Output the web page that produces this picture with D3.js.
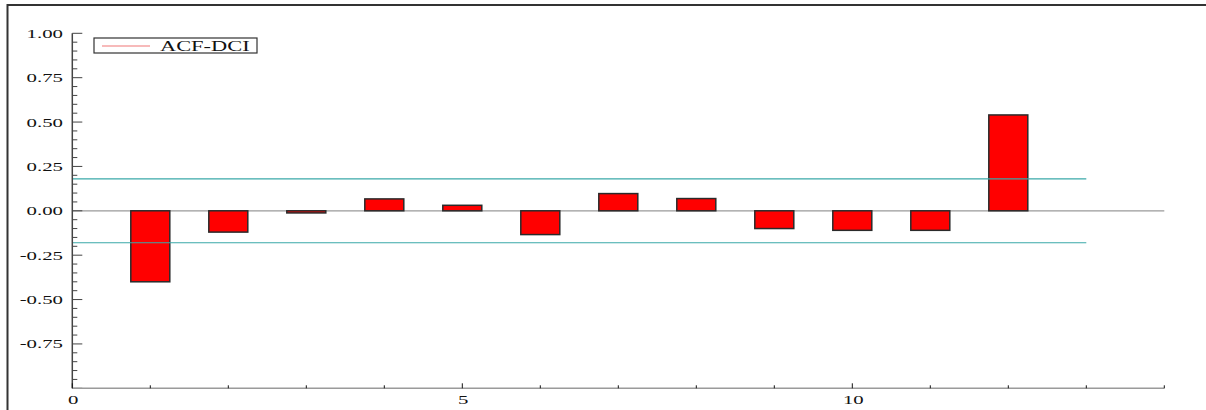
<!DOCTYPE html>
<html><head><meta charset="utf-8">
<script src="https://cdn.jsdelivr.net/npm/d3@7"></script>
<style>
html,body{margin:0;padding:0;background:#fff;}
svg{display:block;}
text{font-family:"Liberation Serif","Times New Roman",serif;fill:#111;}
</style></head>
<body>
<svg id="c" width="1206" height="410"></svg>
<script>
const lags = [1,2,3,4,5,6,7,8,9,10,11,12];
const acfValues = [-0.40,-0.12,-0.012,0.067,0.031,-0.134,0.097,0.069,-0.10,-0.11,-0.11,0.54];
const confBand = 0.18;
const yTickLabels = ["-0.75","-0.50","-0.25","0.00","0.25","0.50","0.75","1.00"];
const xTickLabels = ["0","5","10"];
const seriesName = "ACF-DCI";

const svg = d3.select("#c");
const x = d3.scaleLinear().domain([0,14]).range([72.3,1164.3]);
const y = d3.scaleLinear().domain([-1,1]).range([388.3,33.3]);

// outer frame (top + left)
svg.append("line").attr("x1",7).attr("x2",1206).attr("y1",5).attr("y2",5).attr("stroke","#333").attr("stroke-width",2);
svg.append("line").attr("x1",7.5).attr("x2",7.5).attr("y1",4).attr("y2",410).attr("stroke","#333").attr("stroke-width",2);

// zero line
svg.append("line").attr("x1",x(0)).attr("x2",x(14)).attr("y1",y(0)).attr("y2",y(0)).attr("stroke","#9a9a9a").attr("stroke-width",1.2);

// bars
const bw = x(0.5)-x(0);
svg.selectAll("rect.bar").data(lags.map((l,i)=>({l,v:acfValues[i]}))).join("rect")
  .attr("class","bar")
  .attr("x",d=>x(d.l)-bw/2)
  .attr("width",bw)
  .attr("y",d=>Math.min(y(d.v),y(0)))
  .attr("height",d=>Math.max(1,Math.abs(y(d.v)-y(0))))
  .attr("fill","#ff0000").attr("stroke","#2a2a2a").attr("stroke-width",1.5);

// confidence lines
[confBand,-confBand].forEach(c=>{
  svg.append("line").attr("x1",x(0)).attr("x2",x(13)).attr("y1",y(c)).attr("y2",y(c))
    .attr("stroke","#3aa9a9").attr("stroke-width",1.2);
});

// y axis
const yMinor = d3.range(-20,21).map(i=>i*0.05);
svg.append("line").attr("x1",x(0)).attr("x2",x(0)).attr("y1",y(-1)).attr("y2",y(1)).attr("stroke","#444").attr("stroke-width",1.5);
svg.selectAll("line.ymin").data(yMinor).join("line").attr("class","ymin")
  .attr("x1",x(0)).attr("x2",d=>x(0)+(Math.abs(Math.round(d*100)%25)===0?10:5))
  .attr("y1",d=>y(d)).attr("y2",d=>y(d)).attr("stroke","#444").attr("stroke-width",1);
const yl = svg.selectAll("text.yl").data(yTickLabels).join("text").attr("class","yl")
  .attr("x",63).attr("y",d=>y(+d)+4.5).attr("text-anchor","end").attr("font-size",13).text(d=>d);
yl.each(function(){const n=this.getComputedTextLength(); d3.select(this).attr("textLength",n*1.6).attr("lengthAdjust","spacingAndGlyphs");});

// x axis
svg.append("line").attr("x1",x(0)).attr("x2",x(14)).attr("y1",y(-1)).attr("y2",y(-1)).attr("stroke","#9a9a9a").attr("stroke-width",1.5);
svg.selectAll("line.xt").data(d3.range(0,15)).join("line").attr("class","xt")
  .attr("x1",d=>x(d)).attr("x2",d=>x(d)).attr("y1",y(-1)).attr("y2",d=>y(-1)-(d%5===0?5:3))
  .attr("stroke","#111").attr("stroke-width",1);
const xl = svg.selectAll("text.xl").data(xTickLabels).join("text").attr("class","xl")
  .attr("x",d=>x(+d)+1).attr("y",403.5).attr("text-anchor","middle").attr("font-size",13).text(d=>d);
xl.each(function(){const n=this.getComputedTextLength(); d3.select(this).attr("textLength",n*1.6).attr("lengthAdjust","spacingAndGlyphs");});

// legend
svg.append("rect").attr("x",94).attr("y",38).attr("width",163).attr("height",15).attr("fill","#fff").attr("stroke","#333").attr("stroke-width",1.2);
svg.append("line").attr("x1",102).attr("x2",150).attr("y1",46).attr("y2",46).attr("stroke","#f4a3a3").attr("stroke-width",1.5);
const lt = svg.append("text").attr("x",160).attr("y",51).attr("font-size",14).text(seriesName);
lt.attr("textLength",lt.node().getComputedTextLength()*1.6).attr("lengthAdjust","spacingAndGlyphs");
</script>
</body></html>
